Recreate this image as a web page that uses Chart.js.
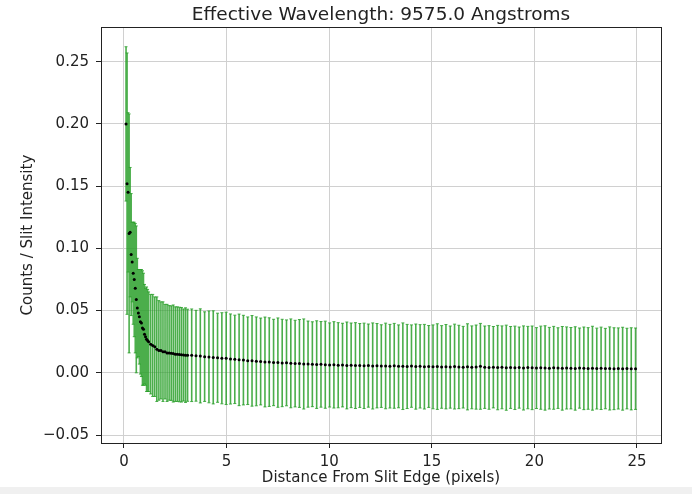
<!DOCTYPE html>
<html><head><meta charset="utf-8">
<script src="https://cdn.jsdelivr.net/npm/chart.js@4/dist/chart.umd.min.js"></script>
<style>
html,body{margin:0;padding:0;}
body{width:692px;height:494px;background:linear-gradient(#ffffff 0px,#ffffff 487px,#f0f0f0 487px,#f0f0f0 494px);}
canvas{display:block;}
</style>
</head><body>
<canvas id="c" width="692" height="494"></canvas>
<script>
// Distance from slit edge (pixels)
const distance = [
0.10,0.15,0.20,0.25,0.30,0.35,0.40,0.45,0.50,0.55,0.60,0.65,0.70,0.75,0.80,0.85,0.90,0.95,1.00,1.05,
1.10,1.15,1.20,1.30,1.40,1.50,1.60,1.70,1.80,1.90,2.00,2.10,2.20,2.30,2.40,2.50,2.60,2.70,2.80,2.90,
3.00,3.10,
3.30,3.51,3.72,3.93,4.14,4.35,4.56,4.77,4.98,5.19,5.40,5.61,5.82,6.03,6.24,6.45,6.66,6.87,7.08,7.29,
7.50,7.71,7.92,8.13,8.34,8.55,8.76,8.97,9.18,9.39,9.60,9.81,10.02,10.23,10.44,10.65,10.86,11.07,11.28,11.49,
11.70,11.91,12.12,12.33,12.54,12.75,12.96,13.17,13.38,13.59,13.80,14.01,14.22,14.43,14.64,14.85,15.06,15.27,15.48,15.69,
15.90,16.11,16.32,16.53,16.74,16.95,17.16,17.37,17.58,17.79,18.00,18.21,18.42,18.63,18.84,19.05,19.26,19.47,19.68,19.89,
20.10,20.31,20.52,20.73,20.94,21.15,21.36,21.57,21.78,21.99,22.20,22.41,22.62,22.83,23.04,23.25,23.46,23.67,23.88,24.09,
24.30,24.51,24.72,24.93
];
// Counts / slit intensity
const counts = [
0.200,0.152,0.145,0.112,0.113,0.095,0.089,0.080,0.075,0.068,0.059,0.052,0.048,0.045,0.041,0.040,0.036,0.035,0.031,0.029,
0.027,0.026,0.025,0.023,0.022,0.021,0.019,0.018,0.018,0.017,0.017,0.016,0.016,0.0158,0.0155,0.0150,0.0150,0.0147,0.0145,0.0143,
0.0142,0.0141,
0.0141,0.0137,0.0136,0.0130,0.0128,0.0124,0.0121,0.0117,0.0116,0.0111,0.0108,0.0104,0.0102,0.0097,0.0096,0.0092,0.0091,0.0087,0.0086,0.0083,
0.0082,0.0079,0.0080,0.0076,0.0074,0.0075,0.0071,0.0070,0.0069,0.0066,0.0068,0.0065,0.0063,0.0064,0.0061,0.0062,0.0059,0.0060,0.0058,0.0059,
0.0056,0.0058,0.0055,0.0057,0.0054,0.0055,0.0053,0.0056,0.0052,0.0053,0.0051,0.0054,0.0050,0.0052,0.0049,0.0051,0.0048,0.0050,0.0047,0.0049,
0.0046,0.0050,0.0047,0.0045,0.0048,0.0044,0.0046,0.0052,0.0045,0.0043,0.0045,0.0042,0.0044,0.0041,0.0043,0.0040,0.0042,0.0039,0.0042,0.0040,
0.0038,0.0041,0.0039,0.0037,0.0040,0.0038,0.0036,0.0039,0.0037,0.0035,0.0038,0.0036,0.0035,0.0037,0.0034,0.0036,0.0034,0.0035,0.0033,0.0035,
0.0033,0.0034,0.0032,0.0033
];
// Symmetric error (1 sigma)
const errors = [
0.062,0.105,0.064,0.096,0.052,0.049,0.032,0.041,0.046,0.052,0.059,0.040,0.035,0.038,0.042,0.043,0.046,0.045,0.040,0.039,
0.042,0.041,0.040,0.040,0.041,0.040,0.042,0.040,0.039,0.040,0.038,0.039,0.038,0.038,0.039,0.038,0.038,0.038,0.038,0.037,
0.038,0.037,
0.0372,0.0365,0.0378,0.0360,0.0369,0.0374,0.0358,0.0366,0.0371,0.0362,0.0355,0.0368,0.0360,0.0352,0.0364,0.0357,0.0349,0.0361,0.0356,0.0347,
0.0359,0.0351,0.0345,0.0357,0.0348,0.0353,0.0362,0.0346,0.0341,0.0352,0.0344,0.0350,0.0338,0.0347,0.0342,0.0336,0.0349,0.0340,0.0345,0.0337,
0.0343,0.0334,0.0346,0.0339,0.0332,0.0344,0.0336,0.0341,0.0333,0.0348,0.0338,0.0331,0.0342,0.0335,0.0340,0.0329,0.0337,0.0344,0.0332,0.0339,
0.0330,0.0341,0.0335,0.0328,0.0346,0.0333,0.0338,0.0345,0.0331,0.0336,0.0327,0.0339,0.0333,0.0342,0.0329,0.0335,0.0326,0.0338,0.0331,0.0336,
0.0325,0.0334,0.0339,0.0328,0.0333,0.0324,0.0336,0.0330,0.0327,0.0335,0.0322,0.0332,0.0328,0.0337,0.0325,0.0331,0.0323,0.0334,0.0329,0.0326,
0.0333,0.0324,0.0330,0.0327
];
const xTicks = [0, 5, 10, 15, 20, 25];
const xTickLabels = ['0', '5', '10', '15', '20', '25'];
const yTicks = [-0.05, 0.00, 0.05, 0.10, 0.15, 0.20, 0.25];
const yTickLabels = ['\u22120.05', '0.00', '0.05', '0.10', '0.15', '0.20', '0.25'];
const titleText = 'Effective Wavelength: 9575.0 Angstroms';
const xLabel = 'Distance From Slit Edge (pixels)';
const yLabel = 'Counts / Slit Intensity';

Chart.defaults.font.family = "'DejaVu Sans', sans-serif";
Chart.defaults.color = '#222';

const errorBars = {
  id: 'errorBars',
  beforeDatasetsDraw(chart) {
    const {ctx, scales: {x, y}} = chart;
    ctx.save();
    ctx.strokeStyle = 'rgba(44,160,44,0.85)';
    ctx.lineWidth = 1.6;
    ctx.beginPath();
    for (let i = 0; i < distance.length; i++) {
      const px = x.getPixelForValue(distance[i]);
      const top = y.getPixelForValue(counts[i] + errors[i]);
      const bot = y.getPixelForValue(counts[i] - errors[i]);
      ctx.moveTo(px, top); ctx.lineTo(px, bot);
    }
    ctx.stroke();
    ctx.lineWidth = 1;
    ctx.beginPath();
    for (let i = 0; i < distance.length; i++) {
      const px = x.getPixelForValue(distance[i]);
      const top = y.getPixelForValue(counts[i] + errors[i]);
      const bot = y.getPixelForValue(counts[i] - errors[i]);
      ctx.moveTo(px - 1.5, top); ctx.lineTo(px + 1.5, top);
      ctx.moveTo(px - 1.5, bot); ctx.lineTo(px + 1.5, bot);
    }
    ctx.stroke();
    ctx.restore();
  }
};

const frame = {
  id: 'frame',
  afterDraw(chart) {
    const {ctx, chartArea: a} = chart;
    ctx.save();
    ctx.strokeStyle = '#222';
    ctx.lineWidth = 1;
    ctx.strokeRect(Math.round(a.left) + 0.5, Math.round(a.top) + 0.5,
                   Math.round(a.right - a.left), Math.round(a.bottom - a.top));
    ctx.restore();
  }
};

new Chart(document.getElementById('c'), {
  type: 'scatter',
  data: {
    datasets: [{
      data: distance.map((d, i) => ({x: d, y: counts[i]})),
      pointRadius: 1.5,
      pointHoverRadius: 1.5,
      backgroundColor: '#000',
      borderWidth: 0
    }]
  },
  plugins: [errorBars, frame],
  options: {
    responsive: false,
    animation: false,
    devicePixelRatio: 1,
    layout: {padding: {left: 0, right: 31, top: 0, bottom: 0}},
    plugins: {
      legend: {display: false},
      tooltip: {enabled: false},
      title: {
        display: true,
        text: titleText,
        fullSize: false,
        color: '#222',
        font: {size: 18.5, weight: 'normal'},
        padding: {top: 4, bottom: 1}
      }
    },
    scales: {
      x: {
        type: 'linear',
        min: -1.12,
        max: 26.17,
        afterBuildTicks: s => { s.ticks = xTicks.map(v => ({value: v})); },
        afterFit: s => { s.height = 51; },
        ticks: {
          font: {size: 15},
          color: '#222',
          padding: 5,
          callback: v => xTickLabels[xTicks.indexOf(v)]
        },
        grid: {color: '#d0d0d0', lineWidth: 1, tickLength: 5, tickColor: '#222', drawTicks: true},
        border: {display: false},
        title: {display: true, text: xLabel, font: {size: 15}, color: '#222', padding: {top: 0, bottom: 7}}
      },
      y: {
        type: 'linear',
        min: -0.0564,
        max: 0.2777,
        afterBuildTicks: s => { s.ticks = yTicks.map(v => ({value: v})); },
        afterFit: s => { s.width = 101; },
        ticks: {
          font: {size: 15},
          color: '#222',
          padding: 7,
          callback: v => yTickLabels[yTicks.findIndex(t => Math.abs(t - v) < 1e-9)]
        },
        grid: {color: '#d0d0d0', lineWidth: 1, tickLength: 5, tickColor: '#222', drawTicks: true},
        border: {display: false},
        title: {display: true, text: yLabel, font: {size: 15}, color: '#222', padding: {top: 19, bottom: 0}}
      }
    }
  }
});
</script>
</body></html>
